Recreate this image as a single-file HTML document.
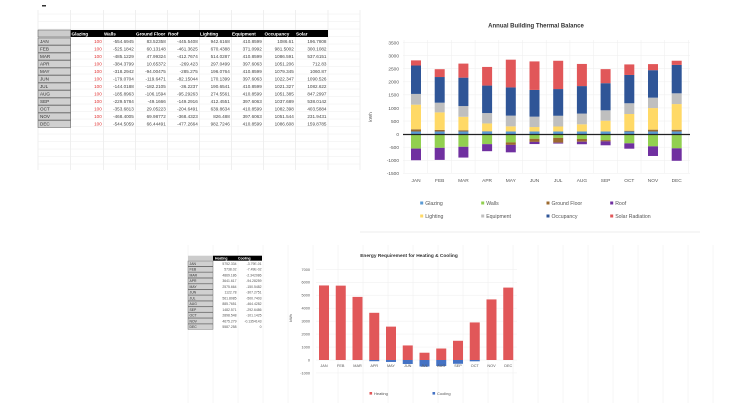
<!DOCTYPE html>
<html><head><meta charset="utf-8"><style>
html,body{margin:0;padding:0;background:#fff;}
svg{display:block;font-family:"Liberation Sans",sans-serif;}
</style></head><body>
<svg id="s" width="730" height="403" viewBox="0 0 730 403" xmlns="http://www.w3.org/2000/svg"></svg>
<script>
const s=document.getElementById('s');let h='';
const M=['JAN','FEB','MAR','APR','MAY','JUN','JUL','AUG','SEP','OCT','NOV','DEC'];
// grid top-left
const cols=[38,70.7,103.3,135.3,167.3,199.3,231.3,263.3,295.3,328,360];
for(const x of cols)h+=`<line x1="${x}" y1="10" x2="${x}" y2="170" stroke="#e4e4e4" stroke-width="0.6"/>`;
for(let y=14;y<170;y+=7.5)h+=`<line x1="38" y1="${y}" x2="360" y2="${y}" stroke="#eee" stroke-width="0.5"/>`;
h+=`<rect x="42" y="5" width="4" height="1.5" fill="#333"/>`;
// top table
const T=[[-554.6945,83.52358,-445.5408,942.6168,410.8599,1086.61,196.7808],[-525.1842,60.13148,-461.3625,670.4388,371.0992,981.5002,300.1082],[-485.1229,47.99324,-412.7674,514.0287,410.8599,1086.591,537.6151],[-384.3799,10.65372,-269.423,297.0499,397.6063,1051.206,712.83],[-318.2942,-94.00475,-285.275,196.0764,410.8599,1079.345,1060.87],[-179.0704,-119.6471,-82.15044,170.1399,397.6063,1022.347,1090.526],[-144.0188,-182.2105,-36.2237,190.6541,410.8599,1021.327,1082.622],[-185.8963,-106.1594,-95.29263,274.5561,410.8599,1051.385,847.2997],[-229.5784,-49.1666,-149.2916,412.4551,397.6063,1037.689,538.0142],[-353.6813,29.05223,-204.6491,639.8634,410.8599,1082.398,403.5884],[-468.4005,69.98772,-368.4323,826.488,397.6063,1051.544,231.9431],[-544.5059,66.44491,-477.2664,982.7246,410.8599,1086.608,159.8785]];
h+=`<rect x="38" y="30" width="32.7" height="7" fill="#ccc" stroke="#555" stroke-width="0.5"/><rect x="70.7" y="30" width="257.3" height="7" fill="#000"/>`;
['Glazing','Walls','Ground Floor','Roof','Lighting','Equipment','Occupancy','Solar'].forEach((t,i)=>{h+=`<text x="${[71.5,104,136,168,200,232,264.5,296][i]}" y="35.5" font-size="4.6" fill="#fff" font-weight="bold">${t}</text>`});
M.forEach((m,r)=>{const y=38+r*7.5;h+=`<rect x="38" y="${y}" width="32.7" height="7" fill="#d0d0d0" stroke="#555" stroke-width="0.5"/><text x="40" y="${y+5}" font-size="4.6" fill="#333">${m}</text>`;
const vals=[100,...T[r]];vals.forEach((v,i)=>{h+=`<text x="${cols[i+2]-1.5}" y="${y+5}" font-size="4.6" text-anchor="end" fill="${i==0?'#e03030':'#444'}">${v}</text>`});});
// top chart
const Y=v=>134.1-v*13.07/500, X0=416,DX=23.7;
h+=`<line x1="360" y1="232" x2="700" y2="232" stroke="#ddd" stroke-width="0.6"/>`;
h+=`<text x="536" y="27.5" font-size="6" font-weight="bold" text-anchor="middle" fill="#333">Annual Building Thermal Balance</text>`;
for(let v=-1500;v<=3500;v+=500){h+=`<text x="399" y="${Y(v)+1.8}" font-size="4.8" text-anchor="end" fill="#555">${v}</text>`;h+=`<line x1="403" y1="${Y(v)}" x2="690" y2="${Y(v)}" stroke="#eee" stroke-width="0.5"/>`;}
for(let i=0;i<=12;i++){const x=404+i*DX;h+=`<line x1="${x}" y1="40" x2="${x}" y2="173" stroke="#eee" stroke-width="0.5"/>`;}
h+=`<text x="372" y="117" font-size="4.8" fill="#555" transform="rotate(-90 372 117)" text-anchor="middle">kWh</text>`;
const C={g:'#5b9bd5',w:'#92d050',f:'#9c6a2e',r:'#7030a0',l:'#ffd966',e:'#bfbfbf',o:'#2f5597',s:'#e15759'};
T.forEach((d,i)=>{const x=X0+i*DX-5;let p=0,n=0;
const seg=(v,c)=>{if(v>=0){h+=`<rect x="${x}" y="${Y(p+v)}" width="10" height="${v*13.07/500}" fill="${c}"/>`;p+=v}else{h+=`<rect x="${x}" y="${Y(n)}" width="10" height="${-v*13.07/500}" fill="${c}"/>`;n+=v}};
seg(100,C.g);seg(d[0],C.w);seg(d[1],C.f);seg(d[2],C.r);seg(d[3],C.l);seg(d[4],C.e);seg(d[5],C.o);seg(d[6],C.s);
h+=`<text x="${X0+i*DX}" y="182" font-size="4.8" text-anchor="middle" fill="#555">${M[i]}</text>`;});
h+=`<line x1="403" y1="134.5" x2="690" y2="134.5" stroke="#222" stroke-width="1.2"/>`;
[['Glazing',C.g,421.7,203],['Walls',C.w,482.7,203],['Ground Floor',C.f,548,203],['Roof',C.r,611.7,203],['Lighting',C.l,421.7,216],['Equipment',C.e,482.7,216],['Occupancy',C.o,548,216],['Solar Radiation',C.s,611.7,216]].forEach(([t,c,x,y])=>{h+=`<rect x="${x-1.5}" y="${y-1.5}" width="3" height="3" fill="${c}"/><text x="${x+3.5}" y="${y+2}" font-size="5.2" fill="#555">${t}</text>`});
// bottom grid
for(let x=188;x<=730;x+=25)h+=`<line x1="${x}" y1="245" x2="${x}" y2="403" stroke="#eee" stroke-width="0.5"/>`;
// bottom table
const H=[5752.334,5738.02,4869.186,3641.617,2575.664,1122.78,561.8085,885.7651,1482.571,2898.548,4675.279,5587.258];
const Cc=['-3.79E-01','-7.49E-02','-2.342086','-94.28259','-150.5482','-307.2751','-500.7403','-464.4282','-292.6486','-101.1425','-0.1354143','0'];
h+=`<rect x="188" y="255.7" width="25" height="5" fill="#ccc"/><rect x="213" y="255.7" width="49" height="5" fill="#000"/><text x="215" y="259.4" font-size="3.4" fill="#fff" font-weight="bold">Heating</text><text x="238" y="259.4" font-size="3.4" fill="#fff" font-weight="bold">Cooling</text>`;
M.forEach((m,r)=>{const y=261+r*5.73;h+=`<rect x="188" y="${y}" width="25" height="5.3" fill="#d0d0d0" stroke="#555" stroke-width="0.4"/><text x="189.5" y="${y+4}" font-size="3.4" fill="#333">${m}</text><text x="236.5" y="${y+4}" font-size="3.4" text-anchor="end" fill="#555">${H[r]}</text><text x="261.5" y="${y+4}" font-size="3.4" text-anchor="end" fill="#555">${Cc[r]}</text>`});
// bottom chart
const Y2=v=>360-v*12.96/1000,X2=324,D2=16.75;
h+=`<text x="409" y="257" font-size="4.8" font-weight="bold" text-anchor="middle" fill="#333">Energy Requirement for Heating &amp; Cooling</text>`;
for(let v=-1000;v<=7000;v+=1000){h+=`<text x="310" y="${Y2(v)+1.5}" font-size="3.8" text-anchor="end" fill="#555">${v}</text>`;h+=`<line x1="316" y1="${Y2(v)}" x2="517" y2="${Y2(v)}" stroke="#eee" stroke-width="0.5"/>`;}
h+=`<text x="292" y="318" font-size="3.8" fill="#555" transform="rotate(-90 292 318)" text-anchor="middle">kWh</text>`;
H.forEach((v,i)=>{const x=X2+i*D2-5;h+=`<rect x="${x}" y="${Y2(v)}" width="10" height="${v*12.96/1000}" fill="#e15759"/>`;const c=-parseFloat(Cc[i]);h+=`<rect x="${x}" y="360" width="10" height="${c*12.96/1000}" fill="#4472c4"/>`;h+=`<text x="${X2+i*D2}" y="367" font-size="3.8" text-anchor="middle" fill="#555">${M[i]}</text>`});
h+=`<rect x="369.5" y="392" width="2.6" height="2.6" fill="#e15759"/><text x="374" y="395" font-size="4" fill="#555">Heating</text><rect x="432.5" y="392" width="2.6" height="2.6" fill="#4472c4"/><text x="437" y="395" font-size="4" fill="#555">Cooling</text>`;
s.innerHTML=h;
</script>
</body></html>
